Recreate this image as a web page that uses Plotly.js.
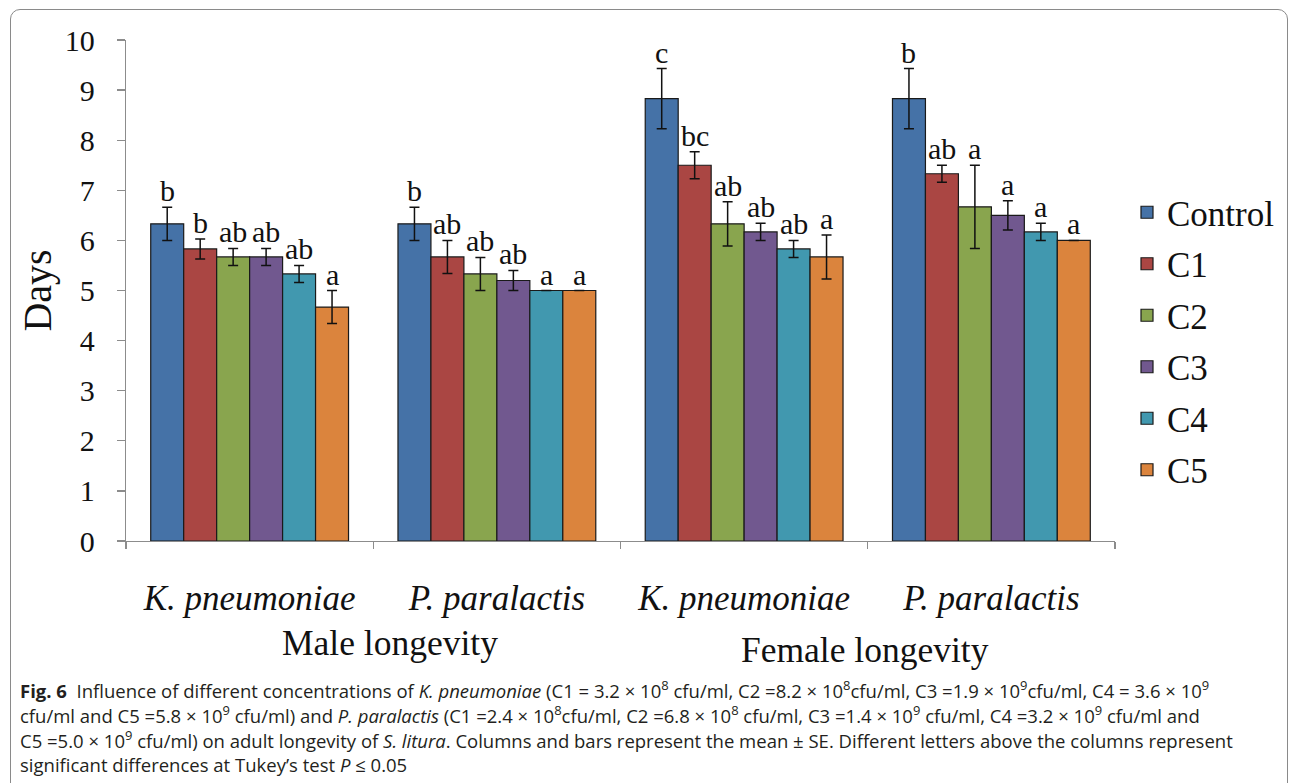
<!DOCTYPE html>
<html>
<head>
<meta charset="utf-8">
<script src="https://cdn.plot.ly/plotly-3.0.1.min.js"></script>
<style>
  html, body { margin: 0; padding: 0; background: #fff; }
  #wrap { position: relative; width: 1292px; height: 783px; overflow: hidden; }
  #chart { position: absolute; left: 0; top: 0; width: 1292px; height: 783px; }
  #frame { position: absolute; left: 10px; top: 9px; width: 1278px; height: 800px;
           border: 1.3px solid #8a8a8a; border-radius: 10px; pointer-events: none; box-sizing: border-box; }
</style>
</head>
<body>
<div id="wrap">
  <div id="chart"></div>
  <div id="frame"></div>
</div>
<script>
// ---- data ----
const categories = ["Male K. pneumoniae", "Male P. paralactis", "Female K. pneumoniae", "Female P. paralactis"];
const tickLabels = ["<i>K. pneumoniae</i>", "<i>P. paralactis</i>", "<i>K. pneumoniae</i>", "<i>P. paralactis</i>"];
const groupLabels = ["Male longevity", "Female longevity"];
const seriesNames = ["Control", "C1", "C2", "C3", "C4", "C5"];

const controlMean = [6.33, 6.33, 8.83, 8.83];
const controlSE   = [0.33, 0.33, 0.60, 0.60];
const c1Mean = [5.83, 5.67, 7.50, 7.33];
const c1SE   = [0.20, 0.33, 0.27, 0.17];
const c2Mean = [5.67, 5.33, 6.33, 6.67];
const c2SE   = [0.17, 0.33, 0.44, 0.83];
const c3Mean = [5.67, 5.20, 6.17, 6.50];
const c3SE   = [0.17, 0.20, 0.17, 0.29];
const c4Mean = [5.33, 5.00, 5.83, 6.17];
const c4SE   = [0.17, 0.00, 0.17, 0.17];
const c5Mean = [4.67, 5.00, 5.67, 6.00];
const c5SE   = [0.33, 0.00, 0.44, 0.00];

const controlLetters = ["b", "b", "c", "b"];
const c1Letters = ["b", "ab", "bc", "ab"];
const c2Letters = ["ab", "ab", "ab", "a"];
const c3Letters = ["ab", "ab", "ab", "a"];
const c4Letters = ["ab", "a", "ab", "a"];
const c5Letters = ["a", "a", "a", "a"];

const yTicks = [0, 1, 2, 3, 4, 5, 6, 7, 8, 9, 10];

const captionLines = [
  "<b>Fig. 6</b>  Influence of different concentrations of <i>K. pneumoniae</i> (C1 = 3.2 × 10<sup>8</sup> cfu/ml, C2 =8.2 × 10<sup>8</sup>cfu/ml, C3 =1.9 × 10<sup>9</sup>cfu/ml, C4 = 3.6 × 10<sup>9</sup>",
  "cfu/ml and C5 =5.8 × 10<sup>9</sup> cfu/ml) and <i>P. paralactis</i> (C1 =2.4 × 10<sup>8</sup>cfu/ml, C2 =6.8 × 10<sup>8</sup> cfu/ml, C3 =1.4 × 10<sup>9</sup> cfu/ml, C4 =3.2 × 10<sup>9</sup> cfu/ml and",
  "C5 =5.0 × 10<sup>9</sup> cfu/ml) on adult longevity of <i>S. litura</i>. Columns and bars represent the mean ± SE. Different letters above the columns represent",
  "significant differences at Tukey’s test <i>P</i> ≤ 0.05"
];

// ---- styling ----
const colors = ["#4572A7", "#AA4643", "#89A54E", "#71588F", "#4198AF", "#DB843D"];
const means = [controlMean, c1Mean, c2Mean, c3Mean, c4Mean, c5Mean];
const ses = [controlSE, c1SE, c2SE, c3SE, c4SE, c5SE];
const letters = [controlLetters, c1Letters, c2Letters, c3Letters, c4Letters, c5Letters];

const W = 1292, H = 783;
const M = {l: 126, r: 177, t: 40, b: 242};
const bargap = 0.2;
const plotW = W - M.l - M.r;
const plotH = H - M.t - M.b;
const catW = plotW / categories.length;
const barW = catW * (1 - bargap) / seriesNames.length;

const serif = "Liberation Serif, Times New Roman, serif";

const traces = seriesNames.map((name, i) => ({
  type: "bar",
  name: name,
  x: categories,
  y: means[i],
  error_y: {type: "data", array: ses[i], visible: true, color: "#111", thickness: 1.5, width: 5},
  marker: {color: colors[i], line: {color: "#1a1a1a", width: 1.2}},
  legendgroup: "g" + i,
  hoverinfo: "x+y+name"
}));

const annotations = [];
seriesNames.forEach((name, i) => {
  categories.forEach((cat, j) => {
    annotations.push({
      x: cat, xref: "x",
      y: means[i][j] + ses[i][j], yref: "y",
      text: letters[i][j],
      showarrow: false,
      xanchor: "center", yanchor: "bottom",
      xshift: (i - (seriesNames.length - 1) / 2) * barW,
      yshift: -2,
      font: {family: serif, size: 30, color: "#111"}
    });
  });
});

// group labels
const groupCenters = [390, 865];
groupLabels.forEach((g, k) => {
  annotations.push({
    text: g, showarrow: false,
    xref: "paper", x: (groupCenters[k] - M.l) / plotW, xanchor: "center",
    yref: "paper", y: 0, yanchor: "middle", yshift: -(k === 0 ? 102 : 109),
    font: {family: serif, size: 35.5, color: "#111"}
  });
});

// caption
captionLines.forEach((line, k) => {
  annotations.push({
    text: line, showarrow: false,
    xref: "paper", x: 0, xanchor: "left", xshift: -(M.l - 18),
    yref: "paper", y: 0, yanchor: "middle", yshift: -(689 + k * 25.3 - (H - M.b)),
    align: "left",
    font: {family: "Open Sans, Noto Sans, sans-serif", size: 18.5, color: "#231f20"}
  });
});

const layout = {
  width: W, height: H,
  margin: M,
  paper_bgcolor: "#fff", plot_bgcolor: "#fff",
  barmode: "group", bargap: bargap, bargroupgap: 0,
  showlegend: true,
  legend: {
    x: (1127 - M.l) / plotW, xanchor: "left",
    y: (H - M.b - 183) / plotH, yanchor: "top",
    font: {family: serif, size: 35, color: "#111"},
    traceorder: "grouped", tracegroupgap: 3,
    itemwidth: 30, bgcolor: "rgba(0,0,0,0)"
  },
  xaxis: {
    type: "category",
    tickvals: categories, ticktext: tickLabels,
    tickfont: {family: serif, size: 35, color: "#111"},
    showline: true, linecolor: "#8c8c8c", linewidth: 1.3,
    ticks: "outside", ticklen: 7, tickcolor: "#8c8c8c", tickwidth: 1.3,
    tickson: "boundaries", ticklabelstandoff: 26,
    showgrid: false, zeroline: false, fixedrange: true
  },
  yaxis: {
    range: [0, 10], tickvals: yTicks, ticktext: yTicks.map(String),
    tickfont: {family: serif, size: 30, color: "#111"},
    showline: true, linecolor: "#8c8c8c", linewidth: 1.3,
    ticks: "outside", ticklen: 8, tickcolor: "#8c8c8c", tickwidth: 1.3,
    ticklabelstandoff: 16,
    showgrid: false, zeroline: false, fixedrange: true,
    title: {text: "Days", font: {family: serif, size: 40, color: "#111"}, standoff: 0}
  },
  annotations: annotations
};

Plotly.newPlot("chart", traces, layout, {displayModeBar: false, staticPlot: true});
</script>
</body>
</html>
